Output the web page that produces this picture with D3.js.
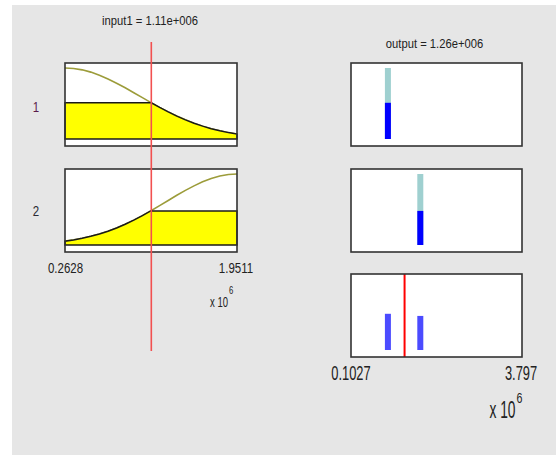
<!DOCTYPE html>
<html>
<head>
<meta charset="utf-8">
<script src="https://cdn.jsdelivr.net/npm/d3@7"></script>
<style>
  html, body { margin: 0; padding: 0; background: #ffffff; }
  svg { display: block; }
  text { font-family: "Liberation Sans", Arial, sans-serif; fill: #222; }
</style>
</head>
<body>
<svg id="chart" width="556" height="455"></svg>
<script>
// ---------------- data ----------------
const inputName = "input1";
const outputName = "output";
const inputValue = 1.11e6;
const outputValue = 1.26e6;
const inputRange = [0.2628e6, 1.9511e6];
const outputRange = [0.1027e6, 3.797e6];
const inputTickLabels = ["0.2628", "1.9511"];
const outputTickLabels = ["0.1027", "3.797"];
const ruleLabels = ["1", "2"];
// sampled x positions of the input membership curves (x 10^6)
const mfX = [0.2628, 0.3472, 0.4316, 0.5160, 0.6005, 0.6849, 0.7693, 0.8537, 0.9381, 1.0225,
             1.1070, 1.1914, 1.2758, 1.3602, 1.4446, 1.5290, 1.6135, 1.6979, 1.7823, 1.8667, 1.9511];
// membership degree of rule 1 input MF at those x
const mf1 = [1.000, 0.993, 0.974, 0.942, 0.899, 0.846, 0.786, 0.721, 0.652, 0.582,
             0.512, 0.445, 0.382, 0.323, 0.270, 0.222, 0.181, 0.145, 0.115, 0.090, 0.069];
// membership degree of rule 2 input MF at those x
const mf2 = [0.054, 0.072, 0.094, 0.122, 0.155, 0.194, 0.240, 0.292, 0.350, 0.414,
             0.482, 0.554, 0.627, 0.700, 0.769, 0.833, 0.890, 0.937, 0.971, 0.993, 1.000];
const firing = [0.51, 0.48];              // rule firing strengths
const outputSingletons = [0.90e6, 1.60e6]; // output MF positions per rule

// ---------------- layout ----------------
const svg = d3.select("#chart");
svg.append("rect").attr("x", 12).attr("y", 5).attr("width", 544).attr("height", 450).attr("fill", "#e6e6e6");

const leftX = [65, 237];
const rightX = [351, 522];
const panelTops = [63, 169, 274];
const panelH = 83;

const xIn = d3.scaleLinear().domain(inputRange).range(leftX);
const xOut = d3.scaleLinear().domain(outputRange).range(rightX);
const yFor = top => d3.scaleLinear().domain([0, 1]).range([top + panelH - 7, top + 5]);

const SX = 0.82; // narrow look
function txt(str, x, y, size, anchor, sy, color) {
  const t = svg.append("text")
    .attr("transform", `translate(${x},${y}) scale(${SX},${sy || 1})`)
    .attr("text-anchor", anchor || "start")
    .style("font-size", size + "px")
    .text(str);
  if (color) t.style("fill", color);
  return t;
}
function txtWidth(t) { return t.node().getComputedTextLength() * SX; }

function matlabFmt(v) {
  const s = d3.format(".3")(v); // e.g. 1.11e+6
  return s.replace(/e([+-])(\d+)/, (m, sg, d) => "e" + sg + d.padStart(3, "0"));
}

const mfSets = [mf1, mf2];
const points = mfSets.map(mf => mfX.map((x, i) => [x * 1e6, mf[i]]));

// ---------------- input panels ----------------
ruleLabels.forEach((lab, r) => {
  const top = panelTops[r];
  const y = yFor(top);
  const g = svg.append("g");
  g.append("rect").attr("x", leftX[0]).attr("y", top).attr("width", leftX[1] - leftX[0]).attr("height", panelH)
    .attr("fill", "#ffffff");
  const pts = points[r];
  const w = firing[r];
  // clipped polygon min(mf, w)
  const clipped = [];
  for (let i = 0; i < pts.length; i++) {
    const [x0, m0] = pts[i];
    if (i > 0) {
      const [xp, mp] = pts[i - 1];
      if ((mp - w) * (m0 - w) < 0) {
        const t = (w - mp) / (m0 - mp);
        clipped.push([xp + t * (x0 - xp), w]);
      }
    }
    clipped.push([x0, Math.min(m0, w)]);
  }
  const poly = [[pts[0][0], 0], ...clipped, [pts[pts.length - 1][0], 0]];
  g.append("path")
    .attr("d", d3.line().x(d => xIn(d[0])).y(d => y(d[1]))(pts))
    .attr("fill", "none").attr("stroke", "#9c9c3a").attr("stroke-width", 1.6);
  g.append("path")
    .attr("d", d3.line().x(d => xIn(d[0])).y(d => y(d[1]))(poly) + "Z")
    .attr("fill", "#ffff00").attr("stroke", "#1a1a1a").attr("stroke-width", 1.5);
  g.append("rect").attr("x", leftX[0]).attr("y", top).attr("width", leftX[1] - leftX[0]).attr("height", panelH)
    .attr("fill", "none").attr("stroke", "#333").attr("stroke-width", 1.6);
  txt(lab, 36, top + (r === 0 ? 49 : 47), 14, "middle", 1.1, r === 0 ? "#5a1a4a" : "#2a2a33");
});

// input line
svg.append("line")
  .attr("x1", xIn(inputValue)).attr("x2", xIn(inputValue))
  .attr("y1", 42).attr("y2", 351)
  .attr("stroke", "#f25050").attr("stroke-width", 1.6);

txt(inputName + " = " + matlabFmt(inputValue), (leftX[0] + leftX[1]) / 2 - 1, 25, 13.7, "middle", 1.0);
txt(inputTickLabels[0], leftX[0] + 0.5, 272.5, 14, "middle", 1.1);
txt(inputTickLabels[1], leftX[1] - 1, 272.5, 14, "middle", 1.1);
const lx = txt("x 10", 210, 307, 11.6, "start", 1.28);
txt("6", 210 + txtWidth(lx) + 1, 293.5, 9.4, "start", 1.1);

// ---------------- output panels ----------------
const barW = 6;
panelTops.forEach((top, p) => {
  const y = yFor(top);
  const g = svg.append("g");
  g.append("rect").attr("x", rightX[0]).attr("y", top).attr("width", rightX[1] - rightX[0]).attr("height", panelH)
    .attr("fill", "#ffffff");
  if (p < ruleLabels.length) {
    const xc = xOut(outputSingletons[p]);
    g.append("rect").attr("x", xc - barW / 2).attr("y", y(1)).attr("width", barW).attr("height", y(0) - y(1))
      .attr("fill", "#9fd0d0");
    g.append("rect").attr("x", xc - barW / 2).attr("y", y(firing[p])).attr("width", barW).attr("height", y(0) - y(firing[p]))
      .attr("fill", "#0000ff");
  } else {
    outputSingletons.forEach((s, r) => {
      const xc = xOut(s);
      g.append("rect").attr("x", xc - barW / 2).attr("y", y(firing[r])).attr("width", barW).attr("height", y(0) - y(firing[r]))
        .attr("fill", "#4b4bff");
    });
    g.append("line").attr("x1", xOut(outputValue)).attr("x2", xOut(outputValue))
      .attr("y1", top).attr("y2", top + panelH)
      .attr("stroke", "#ff0000").attr("stroke-width", 2);
  }
  g.append("rect").attr("x", rightX[0]).attr("y", top).attr("width", rightX[1] - rightX[0]).attr("height", panelH)
    .attr("fill", "none").attr("stroke", "#333").attr("stroke-width", 1.6);
});

txt(outputName + " = " + matlabFmt(outputValue), 434.5, 48, 13.7, "middle", 1.0);
txt(outputTickLabels[0], rightX[0], 380, 15.7, "middle", 1.34);
txt(outputTickLabels[1], rightX[1] - 1, 380, 15.7, "middle", 1.34);
const rx = txt("x 10", 489.5, 417.5, 16.8, "start", 1.38);
txt("6", 489.5 + txtWidth(rx) + 1, 402.5, 13, "start", 1.15);
</script>
</body>
</html>
